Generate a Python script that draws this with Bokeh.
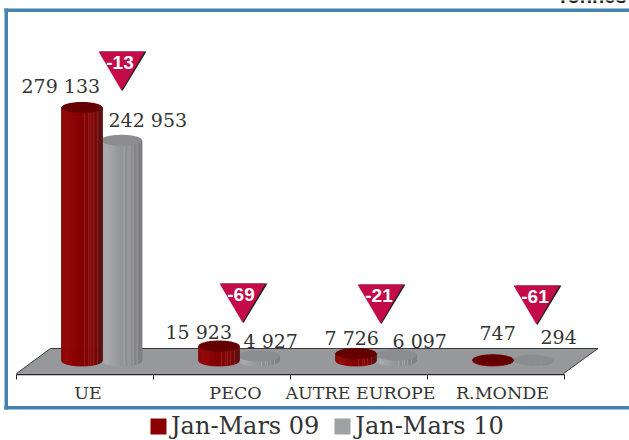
import math
from bokeh.embed import file_html
from bokeh.resources import INLINE
from bokeh.plotting import figure
from bokeh.core.properties import value
from bokeh.models import Range1d, LinearAxis, FixedTicker, Legend, LegendItem

categories = ["UE", "PECO", "AUTRE EUROPE", "R.MONDE"]
series_names = ["Jan-Mars 09", "Jan-Mars 10"]
jan_mars_09 = [279133, 15923, 7726, 747]
jan_mars_10 = [242953, 4927, 6097, 294]
labels_09 = ["279 133", "15 923", "7 726", "747"]
labels_10 = ["242 953", "4 927", "6 097", "294"]
evolution = ["-13", "-69", "-21", "-61"]

W, H = 629, 440
X0, STEP = 16.0, 137.0        # pixel position of the first tick, tick spacing
Y0, K = 360.0, 253.0 / 279133 # pixel of value 0, pixels per unit

xs = lambda px: (px - X0) / STEP
ys = lambda py: (Y0 - py) / K

p = figure(width=W, height=H, output_backend="svg", toolbar_location=None,
           x_range=Range1d(xs(0), xs(W)), y_range=Range1d(ys(H), ys(0)),
           min_border=0)
p.grid.visible = False
p.axis.visible = False
p.outline_line_color = None
p.background_fill_color = "white"

SERIF = value("DejaVu Serif")
TXT = "#333333"

# frame
FRAME = "#4682B0"
for a, b, c, d in [(4, 8, 629, 11.5), (4, 8, 7.5, 409), (4, 405.5, 629, 409)]:
    p.quad(left=xs(a), right=xs(c), top=ys(b), bottom=ys(d), fill_color=FRAME, line_color=None)

# floor
n = len(categories)
fx = [xs(16), xs(50), xs(597.5), xs(563)]
fy = [ys(373), ys(348), ys(348), ys(373)]
p.patch(fx, fy, fill_color="#97989B", line_color=None)
p.line(fx[:3], fy[:3], line_color="#3a3a3a", line_width=1)
p.line(fx[2:], fy[2:], line_color="#3a3a3a", line_width=1)

# axis along the front edge of the floor
ax = LinearAxis(fixed_location=ys(373.5), ticker=FixedTicker(ticks=list(range(n + 1))),
                bounds=(0, n), major_label_overrides={i: "" for i in range(n + 1)},
                major_tick_in=0, major_tick_out=5,
                minor_tick_line_color=None, axis_line_color="#222222", axis_line_width=1.5,
                major_tick_line_color="#222222")
p.add_layout(ax, "below")

# cylinders
R = 20.5 / STEP
B = 5.5 / K
def lerp(base, t):
    for (a, ca), (b, cb) in zip(base, base[1:]):
        if t <= b:
            f = (t - a) / (b - a)
            return tuple(u + (v - u) * f for u, v in zip(ca, cb))
    return base[-1][1]
RED = [(0, (0x80,0x06,0x06)), (.1, (0x96,0x08,0x08)), (.45, (0x84,0,0)), (.8, (0x7c,0x06,0x06)), (1, (0x5a,0x10,0x10))]
GREY = [(0, (0x9c,0x9d,0xa0)), (.12, (0xac,0xad,0xb0)), (.5, (0x94,0x95,0x98)), (1, (0x7e,0x7f,0x82))]
LIGHT = (.58, .66, .72, .80, .88)   # thin lighter lines of the original's shading

def cylinder(cx, v, base, top):
    N = 41
    sx, sy, col = [], [], []
    for i in range(N):
        u0, u1 = 2 * i / N - 1, 2 * (i + 1) / N - 1
        d0, d1 = math.sqrt(max(0, 1 - u0 * u0)), math.sqrt(max(0, 1 - u1 * u1))
        sx.append([cx + R * u0, cx + R * u1, cx + R * u1, cx + R * u0])
        sy.append([-B * d0, -B * d1, v, v])
        t = (i + .5) / N
        c = lerp(base, t)
        if any(abs(t - s) < .5 / N for s in LIGHT):
            c = tuple(x + 24 for x in c)
        col.append("#%02x%02x%02x" % tuple(int(x) for x in c))
    p.patches(sx, sy, fill_color=col, line_color=col, line_width=0.8)
    tx = [cx + R * math.cos(2 * math.pi * i / 60) for i in range(60)]
    ty = [v + B * math.sin(2 * math.pi * i / 60) for i in range(60)]
    p.patch(tx, ty, fill_color=top, line_color=None)

for i in range(n):
    cylinder(i + (xs(121) if i == 0 else xs(121.5)), jan_mars_10[i], GREY, "#8c8d90")
for i in range(n):
    cylinder(i + xs(81.5), jan_mars_09[i], RED, "#640000")

# value labels
off09 = [(21, 85), (165, 331), (324, 337), (479, 332)]
off10 = [(108, 119.5), (243, 340), (392, 340), (540, 336)]
p.text(x=[xs(a) for a, _ in off09], y=[ys(b) for _, b in off09], text=labels_09,
       text_font=SERIF, text_font_size="19px", text_color=TXT, text_baseline="middle")
p.text(x=[xs(a) for a, _ in off10], y=[ys(b) for _, b in off10], text=labels_10,
       text_font=SERIF, text_font_size="19px", text_color=TXT, text_baseline="middle")

# category labels
lab_x = [87.5, 235, 360, 502]
p.text(x=[xs(a) for a in lab_x], y=[ys(392.5)] * n, text=categories, text_font=SERIF,
       text_font_size="17.5px", text_color=TXT, text_align="center", text_baseline="middle")

# evolution triangles
tri = [(98, 51), (219, 283), (357, 284), (513, 285)]
TW, TH = 46, 39
p.patches([[xs(a + 2), xs(a + TW + 2), xs(a + TW * .5 + 1)] for a, b in tri],
          [[ys(b), ys(b), ys(b + TH + .5)] for a, b in tri], fill_color="#222222", line_color=None)
p.patches([[xs(a), xs(a + TW), xs(a + TW * .5)] for a, b in tri],
          [[ys(b), ys(b), ys(b + TH)] for a, b in tri], fill_color="#C40A48", line_color=None)
p.text(x=[xs(a + 21.5) for a, b in tri], y=[ys(b + 11) for a, b in tri], text=evolution,
       text_font=value("Liberation Sans"), text_font_style="bold", text_font_size="19px",
       text_color="white", text_align="center", text_baseline="middle")

# unit, cut by the top of the picture as in the reference
p.text(x=[xs(626)], y=[ys(-5)], text=["Tonnes"], text_font=value("Liberation Sans"),
       text_font_style="bold", text_font_size="20px", text_color="#222222",
       text_align="right", text_baseline="middle")

# legend
r1 = p.quad(left=[-99], right=[-98], top=[0], bottom=[1], fill_color="#8B0000", line_color=None)
r2 = p.quad(left=[-99], right=[-98], top=[0], bottom=[1], fill_color="#A0A1A5", line_color=None)
leg = Legend(items=[LegendItem(label=series_names[0], renderers=[r1]),
                    LegendItem(label=series_names[1], renderers=[r2])],
             orientation="horizontal", location=(148, 0), glyph_width=20, glyph_height=20,
             label_text_font="DejaVu Serif", label_text_font_size="24px", label_text_color=TXT,
             border_line_color=None, background_fill_alpha=0, spacing=13,
             label_standoff=3, padding=0, margin=0)
p.add_layout(leg, "center")

open("out.html", "w").write(file_html(p, INLINE))
